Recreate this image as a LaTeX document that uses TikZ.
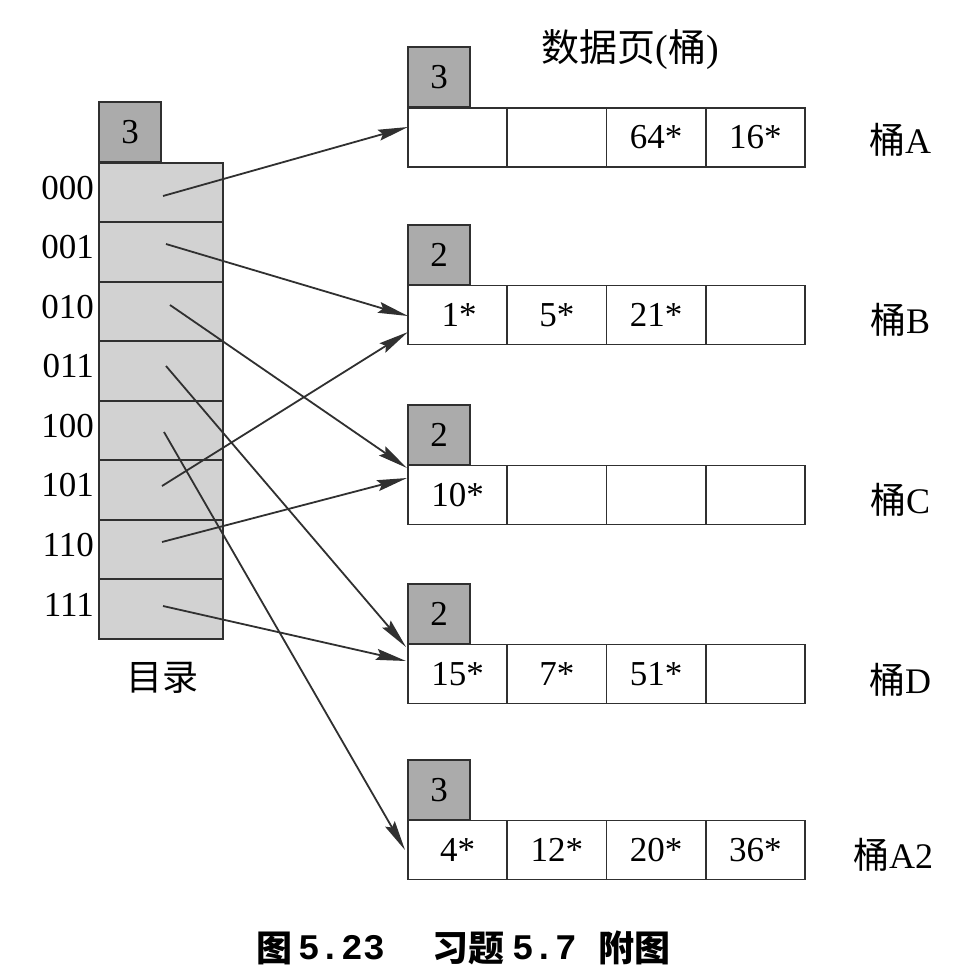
\documentclass[tikz,border=0pt]{standalone}
\usepackage{fontspec}
\setmainfont{Liberation Serif}
\newfontfamily\cjk{Noto Sans CJK SC}
\newfontfamily\capmono{Liberation Mono}
\usetikzlibrary{arrows.meta,calc}
\definecolor{linec}{HTML}{303030}
\definecolor{depthgray}{HTML}{ABABAB}
\definecolor{dirgray}{HTML}{D2D2D2}
\begin{document}
\begin{tikzpicture}[x=1pt,y=-1pt,
  txt/.style={font=\fontsize{35}{35}\selectfont, inner sep=0pt},
  ctxt/.style={font=\fontsize{36}{36}\selectfont, inner sep=0pt},
  cell/.style={draw=linec, line width=1.8pt, fill=white, minimum width=99.25pt, minimum height=59pt, inner sep=0pt, font=\fontsize{35}{35}\selectfont},
  depth/.style={draw=linec, line width=1.8pt, fill=depthgray, minimum width=62pt, minimum height=60pt, inner sep=0pt, font=\fontsize{35}{35}\selectfont},
  dcell/.style={draw=linec, line width=1.8pt, fill=dirgray, minimum width=124pt, minimum height=59.5pt, inner sep=0pt},
  arr/.style={draw=linec, line width=1.8pt, -{Stealth[length=30pt,width=11pt,inset=4pt]}},
  captxt/.style={font=\fontsize{36}{36}\selectfont\bfseries, inner sep=0pt}]
\useasboundingbox[fill=white] (0,0) rectangle (970,974);

% directory
\node[depth] (gd) at (130,132) {3};
\foreach \i/\lab in {0/000,1/001,2/010,3/011,4/100,5/101,6/110,7/111}{
  \node[dcell] (d\i) at (161,{192.5+59.5*\i}) {};
  \node[txt, anchor=east] (l\i) at (94,{188+59.5*\i}) {\lab};
}
\node[ctxt] (dirlab) at (162,678) {\cjk 目录};

% title
\node[ctxt, font=\fontsize{38}{38}\selectfont] (title) at (630,50) {\cjk 数据页\rmfamily(\cjk 桶\rmfamily)};
% bucket A
\node[depth] (qa) at (439,77) {3};
\node[cell] (a1) at (457.6,137.5) {};
\node[cell] (a2) at (556.9,137.5) {};
\node[cell] (a3) at (656.1,137.5) {64*};
\node[cell] (a4) at (755.4,137.5) {16*};
\node[ctxt] (na) at (900,140) {{\cjk 桶}A};
% bucket B
\node[depth] (qb) at (439,255) {2};
\node[cell] (b1) at (457.6,315) {\hspace{3pt}1*};
\node[cell] (b2) at (556.9,315) {5*};
\node[cell] (b3) at (656.1,315) {21*};
\node[cell] (b4) at (755.4,315) {};
\node[ctxt] (nb) at (900,320) {{\cjk 桶}B};
% bucket C
\node[depth] (qc) at (439,435) {2};
\node[cell] (c1) at (457.6,495) {10*};
\node[cell] (c2) at (556.9,495) {};
\node[cell] (c3) at (656.1,495) {};
\node[cell] (c4) at (755.4,495) {};
\node[ctxt] (nc) at (900,500) {{\cjk 桶}C};
% bucket D
\node[depth] (qd) at (439,614) {2};
\node[cell] (e1) at (457.6,674) {15*};
\node[cell] (e2) at (556.9,674) {7*};
\node[cell] (e3) at (656.1,674) {51*};
\node[cell] (e4) at (755.4,674) {};
\node[ctxt] (nd) at (900,680) {{\cjk 桶}D};
% bucket A2
\node[depth] (qf) at (439,790) {3};
\node[cell] (f1) at (457.6,850) {4*};
\node[cell] (f2) at (556.9,850) {12*};
\node[cell] (f3) at (656.1,850) {20*};
\node[cell] (f4) at (755.4,850) {36*};
\node[ctxt] (nf) at (893,855) {{\cjk 桶}A2};

% arrow start points
\coordinate (s0) at (163,196);
\coordinate (s1) at (166,244);
\coordinate (s2) at (170,305);
\coordinate (s3) at (166,366);
\coordinate (s4) at (164,432);
\coordinate (s5) at (162,486);
\coordinate (s6) at (162,542);
\coordinate (s7) at (163,606);
% arrow tips
\coordinate (t0) at (408,127);
\coordinate (t1) at (408,316);
\coordinate (t5) at (408,332);
\coordinate (t2) at (407,468);
\coordinate (t6) at (407,478);
\coordinate (t3) at (406,647);
\coordinate (t7) at (406,661);
\coordinate (t4) at (405,850);
\foreach \k in {0,...,7}{\draw[arr] (s\k) -- (t\k);}

% caption
\node[captxt] (cap1) at (274,948) {\cjk 图};
\node[captxt, anchor=west] (cap2) at (298,948) {\capmono 5.23};
\node[captxt] (cap3) at (468,948) {\cjk 习题};
\node[captxt, anchor=west] (cap4) at (512,948) {\capmono 5.7};
\node[captxt] (cap5) at (634,948) {\cjk 附图};
\end{tikzpicture}
\end{document}
